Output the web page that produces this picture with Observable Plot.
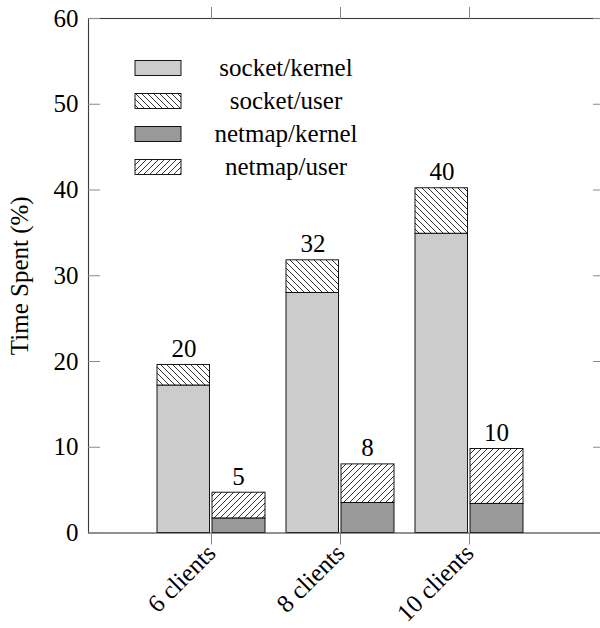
<!DOCTYPE html>
<html><head><meta charset="utf-8">
<script src="https://cdn.jsdelivr.net/npm/d3@7"></script>
<script src="https://cdn.jsdelivr.net/npm/@observablehq/plot@0.6"></script>
</head><body><svg id="pats" width="0" height="0" style="position:absolute;left:0;top:0">
<defs>
<pattern id="hatchNW" patternUnits="userSpaceOnUse" width="6" height="6"><rect width="6" height="6" fill="#fff"/><path d="M0,0L6,6M-1,5L1,7M5,-1L7,1" stroke="#000" stroke-width="0.8" fill="none"/></pattern>
<pattern id="hatchNE" patternUnits="userSpaceOnUse" width="6" height="6"><rect width="6" height="6" fill="#fff"/><path d="M0,6L6,0M-1,1L1,-1M5,7L7,5" stroke="#000" stroke-width="0.8" fill="none"/></pattern>
</defs></svg><div id="chart"></div>
<script>
const categories = ["6 clients", "8 clients", "10 clients"];
const socketKernel = [17.2, 28.0, 34.9];
const socketUser = [2.4, 3.8, 5.3];
const netmapKernel = [1.7, 3.5, 3.4];
const netmapUser = [3.0, 4.5, 6.4];
const socketLabels = ["20", "32", "40"];
const netmapLabels = ["5", "8", "10"];
const yTicks = [0, 10, 20, 30, 40, 50, 60];
const seriesNames = ["socket/kernel", "socket/user", "netmap/kernel", "netmap/user"];
const yLabel = "Time Spent (%)";

const socket = categories.map((c, i) => ({cat: c, k: socketKernel[i], u: socketUser[i], label: socketLabels[i]}));
const netmap = categories.map((c, i) => ({cat: c, k: netmapKernel[i], u: netmapUser[i], label: netmapLabels[i]}));

document.body.style.margin = "0";
document.body.style.padding = "0";

const FONT = "Liberation Serif";
const gridGray = "#8a8a8a";

const chart = Plot.plot({
  width: 600,
  height: 628,
  marginLeft: 88,
  marginRight: -4,
  marginTop: 18,
  marginBottom: 95.5,
  style: {fontFamily: FONT, fontSize: "25px"},
  x: {type: "band", domain: categories, paddingInner: 0.1628, paddingOuter: 0.5814, align: 0.4567, label: null},
  y: {domain: [0, 60], label: null},
  marks: [
    Plot.barY(socket, {x: "cat", y1: d => 0, y2: "k", fill: "#cccccc", stroke: "#000", strokeWidth: 0.9, insetRight: 55.5}),
    Plot.barY(socket, {x: "cat", y1: "k", y2: d => d.k + d.u, fill: "url(#hatchNW)", stroke: "#000", strokeWidth: 0.9, insetRight: 55.5}),
    Plot.barY(netmap, {x: "cat", y1: d => 0, y2: "k", fill: "#999999", stroke: "#000", strokeWidth: 0.9, insetLeft: 55}),
    Plot.barY(netmap, {x: "cat", y1: "k", y2: d => d.k + d.u, fill: "url(#hatchNE)", stroke: "#000", strokeWidth: 0.9, insetLeft: 55}),
    Plot.text(socket, {x: "cat", y: d => d.k + d.u, text: "label", dx: -27.5, dy: -8, lineAnchor: "bottom", fill: "#000"}),
    Plot.text(netmap, {x: "cat", y: d => d.k + d.u, text: "label", dx: 27, dy: -8, lineAnchor: "bottom", fill: "#000"}),
    Plot.frame({stroke: "#3a3a3a", strokeWidth: 1.1}),
    Plot.axisY(yTicks, {anchor: "left", tickSize: 12, dx: 12, tickFormat: () => "", stroke: gridGray, label: null}),
    Plot.axisY(yTicks, {anchor: "right", tickSize: 12, dx: -12, tickFormat: () => "", stroke: gridGray, label: null}),
    Plot.axisY(yTicks, {anchor: "left", tickSize: 0, tickPadding: 10, fill: "#000", label: null}),
    Plot.axisX({anchor: "top", tickSize: 12, tickFormat: () => "", stroke: gridGray, label: null}),
    Plot.axisX({anchor: "bottom", tickSize: 12, tickRotate: -45, tickPadding: 4, stroke: gridGray, fill: "#000", label: null}),
    Plot.text([yLabel], {frameAnchor: "left", rotate: -90, dx: -61, lineAnchor: "bottom", textAnchor: "middle", fill: "#000"})
  ]
});

const svg = d3.select(chart);
const legendFills = ["#cccccc", "url(#hatchNW)", "#999999", "url(#hatchNE)"];
const lg = svg.append("g").attr("class", "legend");
seriesNames.forEach((name, i) => {
  const cy = 68 + i * 33;
  lg.append("rect").attr("x", 135).attr("y", cy - 7.5).attr("width", 46).attr("height", 15)
    .attr("fill", legendFills[i]).attr("stroke", "#000").attr("stroke-width", 0.9);
  lg.append("text").attr("x", 286).attr("y", cy + 8).attr("text-anchor", "middle")
    .attr("font-family", FONT).attr("font-size", 25).attr("fill", "#000").text(name);
});

document.getElementById("chart").appendChild(chart);
</script>
</body></html>
